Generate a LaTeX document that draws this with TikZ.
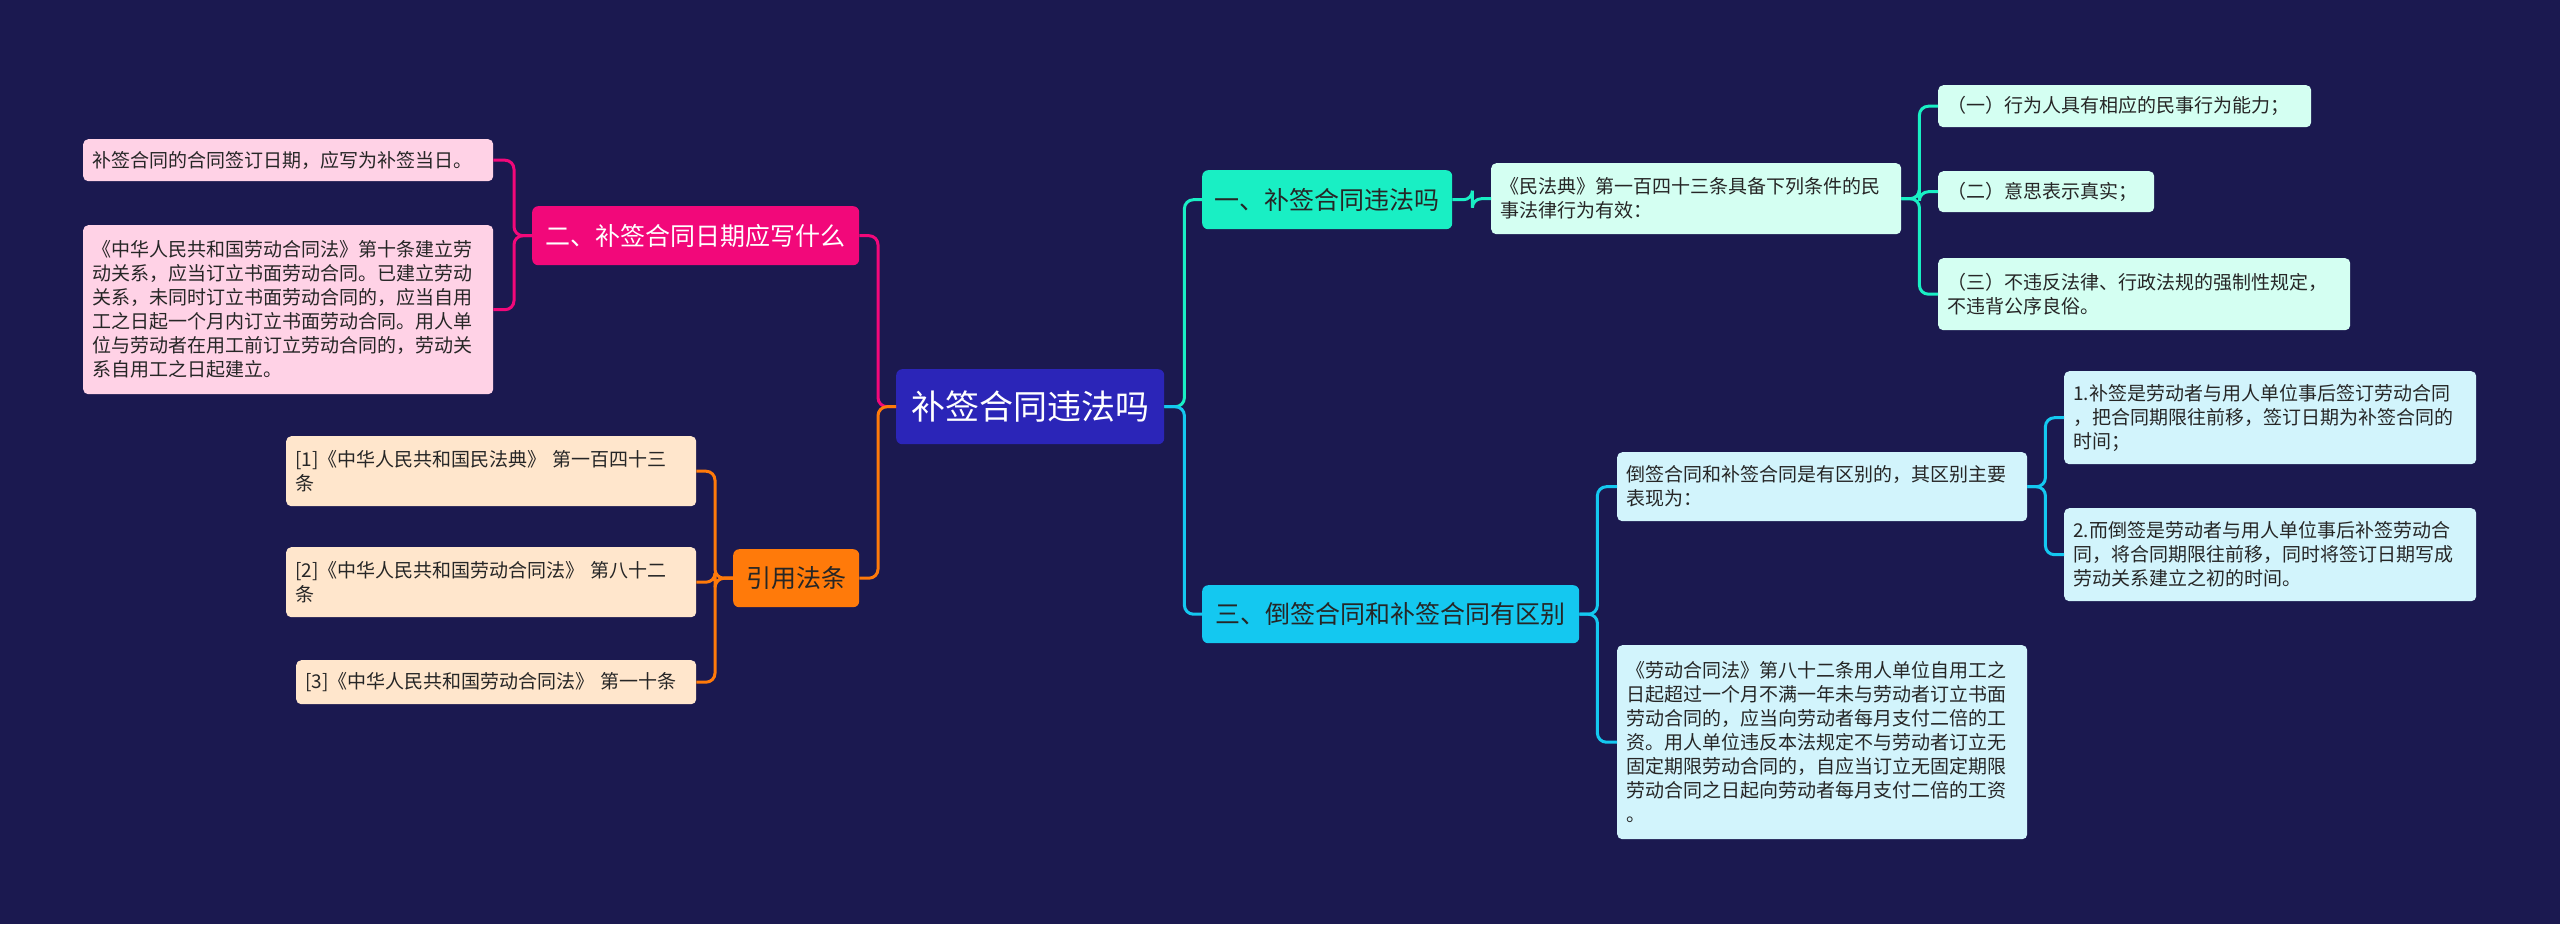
\documentclass[tikz,border=0pt]{standalone}
\usepackage{fontspec}
\setmainfont{Noto Sans CJK SC}
\definecolor{bgc}{HTML}{1B1950}
\definecolor{rootc}{HTML}{2B25B8}
\definecolor{tealc}{HTML}{19EFC4}
\definecolor{mintc}{HTML}{D4FFF2}
\definecolor{cyanc}{HTML}{14C8F0}
\definecolor{skyc}{HTML}{D2F4FC}
\definecolor{pinkc}{HTML}{F2087A}
\definecolor{rosec}{HTML}{FFD2E6}
\definecolor{orangec}{HTML}{FF7A0A}
\definecolor{peachc}{HTML}{FFE6CC}
\tikzset{
  box/.style={anchor=north west, rounded corners=5pt, align=left, inner xsep=9pt, inner ysep=4pt,
    font=\fontsize{19}{24}\selectfont, text=black!85},
  branch/.style={anchor=north west, rounded corners=6pt, align=center, inner sep=0pt,
    font=\fontsize{25}{30}\selectfont},
  link/.style={line width=3pt, rounded corners=9pt}
}
\begin{document}
\begin{tikzpicture}[x=1pt,y=-1pt]
\fill[bgc] (0,0) rectangle (2560,924);
\useasboundingbox (0,0) rectangle (2560,924);

% root
\node[branch, fill=rootc, text=white, font=\fontsize{34}{40}\selectfont, minimum width=268pt, minimum height=75pt] (root) at (896,369) {补签合同违法吗};

% branches
\node[branch, fill=tealc, text=black!85, minimum width=250pt, minimum height=59pt] (b1) at (1202,170) {一、补签合同违法吗};
\node[branch, fill=cyanc, text=black!85, minimum width=377pt, minimum height=58pt] (b3) at (1202,585) {三、倒签合同和补签合同有区别};
\node[branch, fill=pinkc, text=white, minimum width=327pt, minimum height=59pt] (b2) at (532,206) {二、补签合同日期应写什么};
\node[branch, fill=orangec, text=black!85, minimum width=126pt, minimum height=58pt] (b4) at (733,549) {引用法条};

% right leaves
\node[box, fill=mintc, text width=392pt, minimum height=71pt] (mf) at (1491,163) {《民法典》第一百四十三条具备下列条件的民\\事法律行为有效：};
\node[box, fill=mintc, text width=355pt, minimum height=42pt] (c1) at (1938,85) {（一）行为人具有相应的民事行为能力；};
\node[box, fill=mintc, text width=198pt, minimum height=41pt] (c2) at (1938,171) {（二）意思表示真实；};
\node[box, fill=mintc, text width=394pt, minimum height=72pt] (c3) at (1938,258) {（三）不违反法律、行政法规的强制性规定，\\不违背公序良俗。};
\node[box, fill=skyc, text width=392pt, minimum height=69pt] (dq) at (1617,452) {倒签合同和补签合同是有区别的，其区别主要\\表现为：};
\node[box, fill=skyc, text width=394pt, minimum height=93pt] (d1) at (2064,371) {1.补签是劳动者与用人单位事后签订劳动合同\\，把合同期限往前移，签订日期为补签合同的\\时间；};
\node[box, fill=skyc, text width=394pt, minimum height=93pt] (d2) at (2064,508) {2.而倒签是劳动者与用人单位事后补签劳动合\\同，将合同期限往前移，同时将签订日期写成\\劳动关系建立之初的时间。};
\node[box, fill=skyc, text width=392pt, minimum height=194pt] (ld) at (1617,645) {《劳动合同法》第八十二条用人单位自用工之\\日起超过一个月不满一年未与劳动者订立书面\\劳动合同的，应当向劳动者每月支付二倍的工\\资。用人单位违反本法规定不与劳动者订立无\\固定期限劳动合同的，自应当订立无固定期限\\劳动合同之日起向劳动者每月支付二倍的工资\\。};

% left leaves
\node[box, fill=rosec, text width=392pt, minimum height=42pt] (p1) at (83,139) {补签合同的合同签订日期，应写为补签当日。};
\node[box, fill=rosec, text width=392pt, minimum height=169pt] (p2) at (83,225) {《中华人民共和国劳动合同法》第十条建立劳\\动关系，应当订立书面劳动合同。已建立劳动\\关系，未同时订立书面劳动合同的，应当自用\\工之日起一个月内订立书面劳动合同。用人单\\位与劳动者在用工前订立劳动合同的，劳动关\\系自用工之日起建立。};
\node[box, fill=peachc, text width=392pt, minimum height=70pt] (r1) at (286,436) {[1]《中华人民共和国民法典》 第一百四十三\\条};
\node[box, fill=peachc, text width=392pt, minimum height=70pt] (r2) at (286,547) {[2]《中华人民共和国劳动合同法》 第八十二\\条};
\node[box, fill=peachc, text width=382pt, minimum height=44pt] (r3) at (296,660) {[3]《中华人民共和国劳动合同法》 第一十条};

% connectors
\draw[link, tealc] (root.east) -- ++(20,0) |- (b1.west);
\draw[link, cyanc] (root.east) -- ++(20,0) |- (b3.west);
\draw[link, pinkc] (root.west) -- ++(-18,0) |- (b2.east);
\draw[link, orangec] (root.west) -- ++(-18,0) |- (b4.east);
\foreach \c in {c1,c2,c3} \draw[link, tealc] (mf.east) -- ++(18,0) |- (\c.west);
\draw[link, tealc] (b1.east) -- ++(20,0) |- (mf.west);
\draw[link, cyanc] (b3.east) -- ++(18,0) |- (dq.west);
\draw[link, cyanc] (b3.east) -- ++(18,0) |- (ld.west);
\foreach \c in {d1,d2} \draw[link, cyanc] (dq.east) -- ++(18,0) |- (\c.west);
\foreach \c in {p1,p2} \draw[link, pinkc] (b2.west) -- ++(-18,0) |- (\c.east);
\foreach \c in {r1,r2,r3} \draw[link, orangec] (b4.west) -- ++(-18,0) |- (\c.east);
\end{tikzpicture}
\end{document}
